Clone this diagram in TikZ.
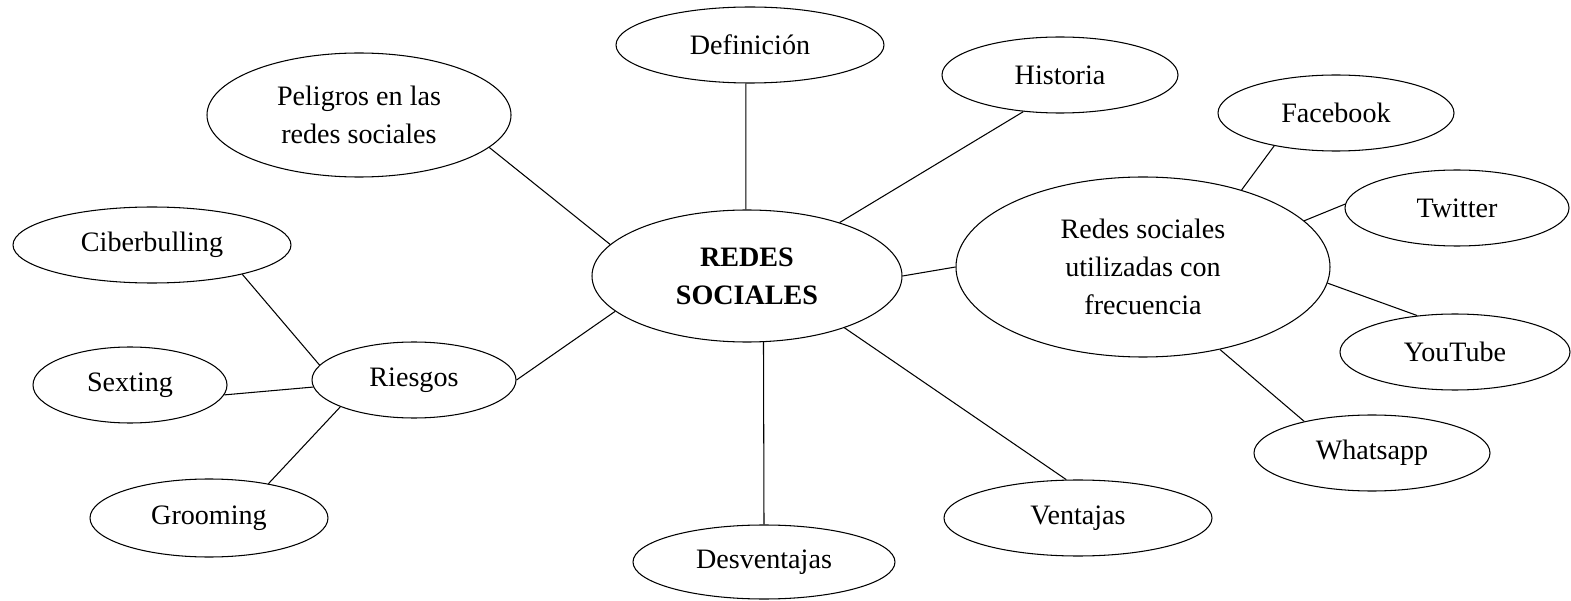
\documentclass[tikz,border=0pt]{standalone}
\usepackage{fontspec}
\setmainfont{Liberation Serif}
\usetikzlibrary{shapes.geometric}

\tikzset{
  burbuja/.style={draw, ellipse, line width=0.6pt, inner sep=0pt, align=center,
    font=\fontsize{16}{21.6}\selectfont},
  rama/.style={line width=0.6pt}
}

\begin{document}
\begin{tikzpicture}
            \useasboundingbox (0,0) rectangle (31.42,12);
            % centro
            \node[burbuja, minimum width=6.2cm, minimum height=2.64cm,
              font=\fontsize{16}{21.6}\selectfont\bfseries] (red) at (14.94,6.48) {REDES\\SOCIALES};
            % primer nivel
            \node[burbuja, minimum width=5.36cm, minimum height=1.52cm] (def) at (15.00,11.10) {Definición};
            \node[burbuja, minimum width=4.72cm, minimum height=1.52cm] (hist) at (21.20,10.50) {Historia};
            \node[burbuja, minimum width=6.08cm, minimum height=2.48cm] (pel) at (7.18,9.70) {Peligros en las\\redes sociales};
            \node[burbuja, minimum width=7.48cm, minimum height=3.60cm] (uso) at (22.86,6.66) {Redes sociales\\utilizadas con\\frecuencia};
            \node[burbuja, minimum width=4.08cm, minimum height=1.52cm] (rie) at (8.28,4.40) {Riesgos};
            \node[burbuja, minimum width=5.36cm, minimum height=1.52cm] (ven) at (21.56,1.64) {Ventajas};
            \node[burbuja, minimum width=5.24cm, minimum height=1.48cm] (des) at (15.28,0.76) {Desventajas};
            % riesgos
            \node[burbuja, minimum width=5.56cm, minimum height=1.52cm] (cib) at (3.04,7.10) {Ciberbulling};
            \node[burbuja, minimum width=3.88cm, minimum height=1.52cm] (sex) at (2.60,4.30) {Sexting};
            \node[burbuja, minimum width=4.76cm, minimum height=1.56cm] (gro) at (4.18,1.64) {Grooming};
            % redes usadas
            \node[burbuja, minimum width=4.72cm, minimum height=1.52cm] (fb) at (26.72,9.74) {Facebook};
            \node[burbuja, minimum width=4.48cm, minimum height=1.52cm] (tw) at (29.14,7.84) {Twitter};
            \node[burbuja, minimum width=4.60cm, minimum height=1.52cm] (yt) at (29.10,4.96) {YouTube};
            \node[burbuja, minimum width=4.72cm, minimum height=1.52cm] (wa) at (27.44,2.94) {Whatsapp};
            % conectores
            \foreach \a/\b in {pel.-14/red.167, def.-96/red.91, hist.-135/red.30,
              red.0/uso.180, rie.0/red.195, red.-76/des.north, red.-28/ven.107,
              cib.-18/rie.171, sex.-6/rie.184, gro.30/rie.200,
              uso.38/fb.-152, uso.16/tw.178, uso.-5/yt.136, uso.-47/wa.155}
            \draw[rama] (\a) -- (\b);
        \end{tikzpicture}
\end{document}
